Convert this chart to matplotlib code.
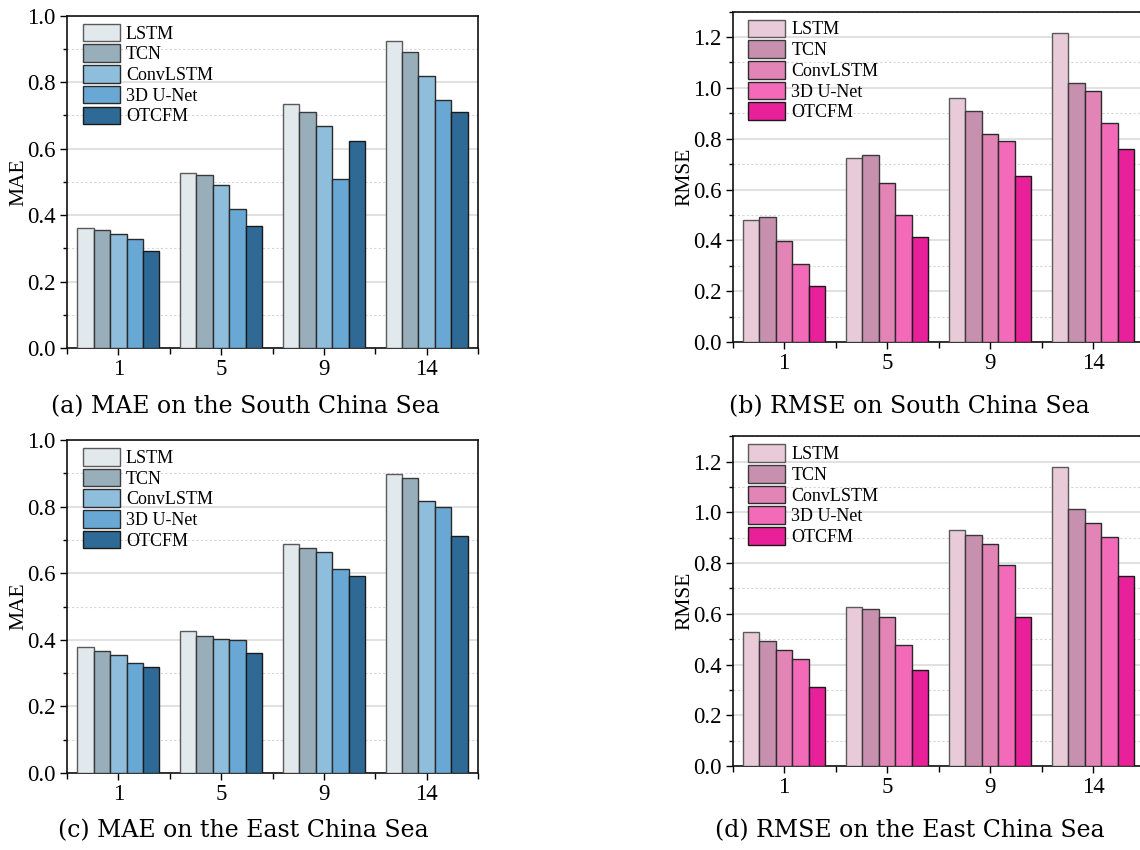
import numpy as np
import matplotlib
matplotlib.use("Agg")
import matplotlib.pyplot as plt
from matplotlib.ticker import MultipleLocator, FixedLocator
from matplotlib.font_manager import FontProperties

plt.rcParams['font.family'] = 'Liberation Serif'

horizons = ["1", "5", "9", "14"]
models = ["LSTM", "TCN", "ConvLSTM", "3D U-Net", "OTCFM"]

# rows: models, columns: horizons
mae_scs = [
    [0.360, 0.527, 0.734, 0.925],
    [0.355, 0.520, 0.709, 0.892],
    [0.343, 0.490, 0.669, 0.820],
    [0.328, 0.417, 0.510, 0.746],
    [0.291, 0.366, 0.622, 0.711],
]
rmse_scs = [
    [0.481, 0.724, 0.959, 1.216],
    [0.490, 0.736, 0.910, 1.020],
    [0.397, 0.627, 0.820, 0.989],
    [0.307, 0.500, 0.792, 0.860],
    [0.222, 0.414, 0.652, 0.761],
]
mae_ecs = [
    [0.379, 0.425, 0.688, 0.898],
    [0.366, 0.411, 0.676, 0.885],
    [0.353, 0.401, 0.664, 0.818],
    [0.331, 0.398, 0.614, 0.798],
    [0.317, 0.361, 0.593, 0.711],
]
rmse_ecs = [
    [0.527, 0.628, 0.929, 1.178],
    [0.492, 0.619, 0.912, 1.012],
    [0.459, 0.589, 0.877, 0.958],
    [0.423, 0.478, 0.791, 0.902],
    [0.313, 0.377, 0.589, 0.748],
]

blue_colors = ["#E1E9ED", "#98AEBB", "#8EBEDC", "#69A8D4", "#2F6A96"]
pink_colors = ["#E8CAD8", "#C690AE", "#E285B6", "#F26AB8", "#E8209A"]
edge_colors = ["#5a5a5a", "#3a3a3a", "#2a2a2a", "#2a2a2a", "#1a1a1a"]

captions = ["(a) MAE on the South China Sea", "(b) RMSE on South China Sea",
            "(c) MAE on the East China Sea", "(d) RMSE on the East China Sea"]

W, H = 1140, 850
fig = plt.figure(figsize=(W / 100, H / 100), dpi=100)

cap_font = FontProperties(family='DejaVu Serif', size=17)


def px_axes(left, top, right, bottom):
    return fig.add_axes([left / W, (H - bottom) / H, (right - left) / W, (bottom - top) / H])


def draw(ax, data, colors, ylabel, ymax):
    n = len(models)
    bw = 0.16
    x = np.arange(len(horizons))
    ax.set_axisbelow(True)
    for i, (m, vals) in enumerate(zip(models, data)):
        ax.bar(x + (i - (n - 1) / 2) * bw, vals, width=bw, color=colors[i],
               edgecolor=edge_colors[i], linewidth=1.0, label=m, zorder=3)
    ax.set_xlim(-0.5, len(horizons) - 0.5)
    ax.set_ylim(0, ymax)
    ax.set_xticks(x)
    ax.set_xticklabels(horizons)
    ax.xaxis.set_minor_locator(FixedLocator(np.arange(-0.5, len(horizons), 1.0)))
    ax.yaxis.set_major_locator(MultipleLocator(0.2))
    ax.yaxis.set_minor_locator(MultipleLocator(0.1))
    ax.yaxis.set_major_formatter(matplotlib.ticker.FormatStrFormatter('%.1f'))
    ax.grid(axis='y', which='major', color='#dcdcdc', linewidth=1.2, linestyle='-', zorder=0)
    ax.grid(axis='y', which='minor', color='#d6d6d6', linewidth=0.8, linestyle=(0, (2, 2)), zorder=0)
    ax.tick_params(axis='both', which='major', direction='out', length=5, width=1,
                   labelsize=16.5, pad=3, labelfontfamily='Liberation Serif')
    ax.tick_params(axis='both', which='minor', direction='out', length=3, width=1)
    ax.tick_params(axis='x', which='minor', length=4)
    for s in ax.spines.values():
        s.set_linewidth(1.2)
        s.set_color('#111111')
    ax.set_ylabel(ylabel, fontsize=15.5, labelpad=-1, family='Liberation Serif')
    leg_font = FontProperties(family='Liberation Serif', size=13)
    ax.legend(loc='upper left', bbox_to_anchor=(0.038, 0.976), frameon=False,
              prop=leg_font, handlelength=2.05, handleheight=1.12, labelspacing=0.1,
              handletextpad=0.35, borderpad=0, borderaxespad=0)


ax_a = px_axes(67, 15.7, 478, 348)
draw(ax_a, mae_scs, blue_colors, "MAE", 1.0)
ax_b = px_axes(732.5, 11.6, 1144.5, 342)
draw(ax_b, rmse_scs, pink_colors, "RMSE", 1.3)
ax_c = px_axes(67, 440, 478, 773)
draw(ax_c, mae_ecs, blue_colors, "MAE", 1.0)
ax_d = px_axes(732.5, 436.3, 1144.5, 766)
draw(ax_d, rmse_ecs, pink_colors, "RMSE", 1.3)

cap_pos = [(245, 407), (909, 407), (243, 831), (910, 831)]
for (cx, cy), txt in zip(cap_pos, captions):
    fig.text(cx / W, (H - cy) / H, txt, ha='center', va='center', fontproperties=cap_font)

fig.savefig("out.png", dpi=100)
